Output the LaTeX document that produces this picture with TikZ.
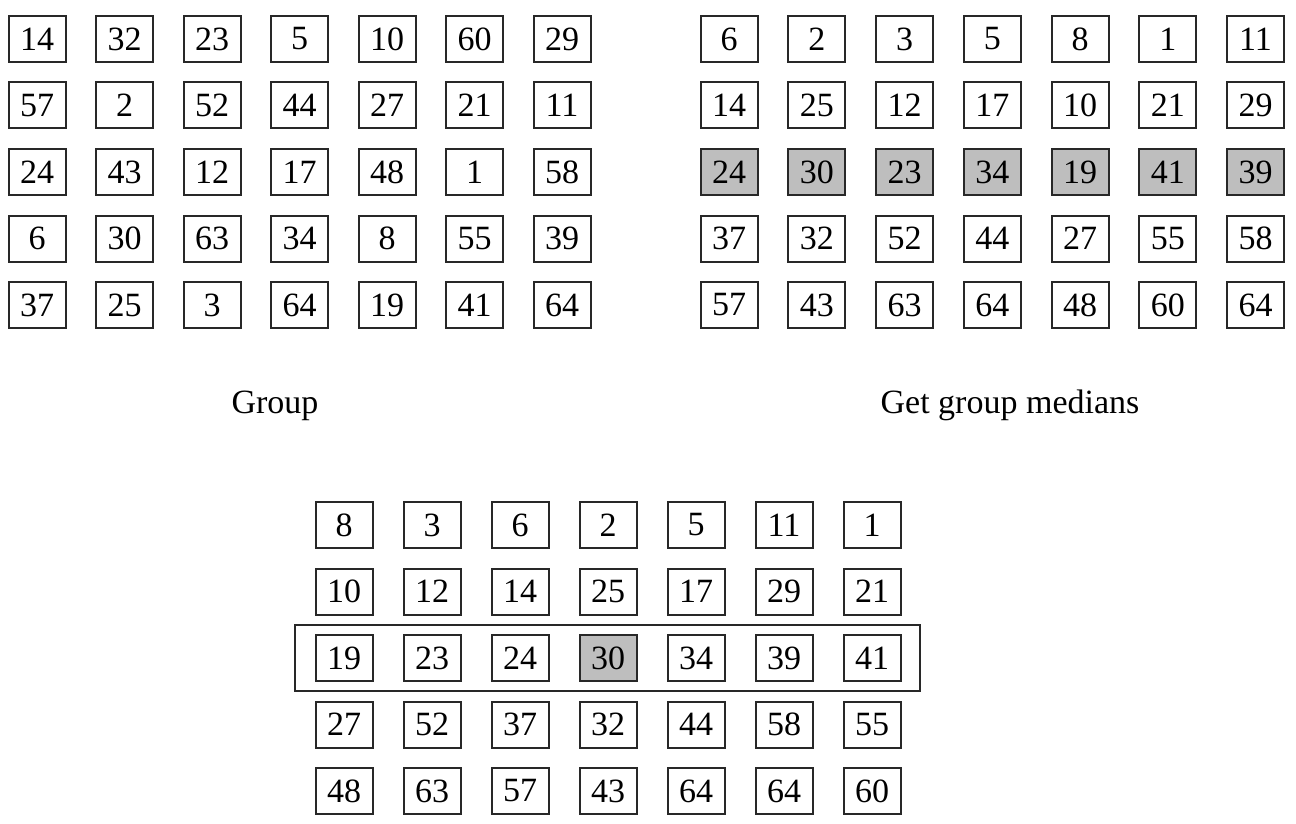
\documentclass[tikz,border=0pt]{standalone}
\usepackage{fontspec}
\setmainfont{Liberation Serif}
\definecolor{medgray}{RGB}{190,190,190}
\definecolor{boxline}{RGB}{40,40,40}
\begin{document}
\begin{tikzpicture}[x=1pt,y=-1pt,
  cell/.style={draw=boxline,line width=2pt,minimum width=57pt,minimum height=46pt,inner sep=0pt,font=\fontsize{34}{34}\selectfont},
  med/.style={cell,fill=medgray},
  caption/.style={font=\fontsize{34}{40}\selectfont,anchor=base,inner sep=0pt},
  frame/.style={draw=boxline,line width=2pt}]
\useasboundingbox (0,0) rectangle (1296,824);
% left grid
\foreach \r/\y/\vals in {1/39/{14,32,23,5,10,60,29},2/105.5/{57,2,52,44,27,21,11},3/172/{24,43,12,17,48,1,58},4/238.5/{6,30,63,34,8,55,39},5/305/{37,25,3,64,19,41,64}}{
  \foreach \v [count=\c] in \vals {
    \node[cell] (L-\r-\c) at ({37+(\c-1)*87.5},\y) {\v};
  }
}
% right grid
\foreach \r/\y/\vals in {1/39/{6,2,3,5,8,1,11},2/105.5/{14,25,12,17,10,21,29},4/238.5/{37,32,52,44,27,55,58},5/305/{57,43,63,64,48,60,64}}{
  \foreach \v [count=\c] in \vals {
    \node[cell] (R-\r-\c) at ({729+(\c-1)*87.75},\y) {\v};
  }
}
\foreach \v [count=\c] in {24,30,23,34,19,41,39} {
  \node[med] (R-3-\c) at ({729+(\c-1)*87.75},172) {\v};
}
% bottom grid
\foreach \r/\y/\vals in {1/525/{8,3,6,2,5,11,1},2/591.5/{10,12,14,25,17,29,21},3/658/{19,23,24,30,34,39,41},4/724.5/{27,52,37,32,44,58,55},5/791/{48,63,57,43,64,64,60}}{
  \foreach \v [count=\c] in \vals {
    \node[cell] (B-\r-\c) at ({344+(\c-1)*88},\y) {\v};
  }
}
\node[med] at (B-3-4) {30};
\draw[frame] (295,625) rectangle (920,691);
% captions
\node[caption] (capL) at (275,413) {Group};
\node[caption] (capR) at (1010,413) {Get group medians};
\end{tikzpicture}
\end{document}
